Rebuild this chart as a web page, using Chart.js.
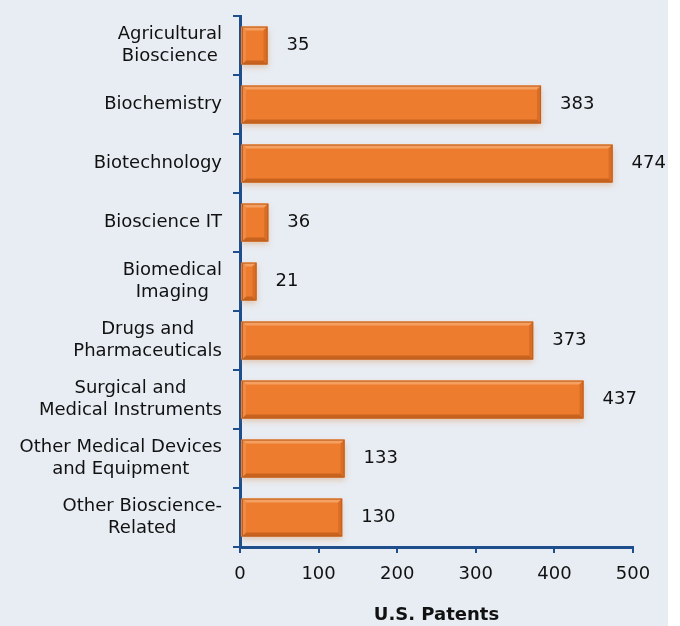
<!DOCTYPE html>
<html>
<head>
<meta charset="utf-8">
<script src="https://cdn.jsdelivr.net/npm/chart.js@4"></script>
<style>
  html, body { margin: 0; padding: 0; background: #fff; }
  #wrap { width: 680px; height: 626px; }
</style>
</head>
<body>
<div id="wrap"><canvas id="patentChart" width="680" height="626"></canvas></div>
<script>
// categories (multi-line labels) and patent counts
var categories = [
    ['Agricultural', 'Bioscience'],
    ['Biochemistry'],
    ['Biotechnology'],
    ['Bioscience IT'],
    ['Biomedical', 'Imaging'],
    ['Drugs and', 'Pharmaceuticals'],
    ['Surgical and', 'Medical Instruments'],
    ['Other Medical Devices', 'and Equipment'],
    ['Other Bioscience-', 'Related']
];
var patents = [35, 383, 474, 36, 21, 373, 437, 133, 130];
var xTicks = [0, 100, 200, 300, 400, 500];

var navy = '#1f4e8c';
var textColor = '#111';
var fontFamily = '"DejaVu Sans", Verdana, sans-serif';

// light panel behind the chart
var panelBg = {
    id: 'panelBg',
    beforeDraw: function (chart) {
        var ctx = chart.ctx;
        ctx.save();
        ctx.fillStyle = '#e8edf3';
        ctx.fillRect(0, 0, 668, chart.height);
        ctx.restore();
    }
};

// soft shadow under the bars
var barShadow = {
    id: 'barShadow',
    beforeDatasetsDraw: function (chart) {
        var ctx = chart.ctx;
        ctx.save();
        ctx.shadowColor = 'rgba(210, 120, 50, 0.35)';
        ctx.shadowBlur = 6;
        ctx.shadowOffsetY = 3;
    },
    afterDatasetsDraw: function (chart) {
        chart.ctx.restore();
    }
};

// bevel edges + value labels
var bevelAndLabels = {
    id: 'bevelAndLabels',
    afterDatasetsDraw: function (chart) {
        var ctx = chart.ctx;
        var meta = chart.getDatasetMeta(0);
        meta.data.forEach(function (bar, i) {
            var l = bar.base + 1, r = bar.x;
            var t = bar.y - bar.height / 2, b = bar.y + bar.height / 2;
            var e = 4;
            ctx.save();
            // top
            ctx.fillStyle = '#f4a062';
            ctx.beginPath();
            ctx.moveTo(l, t); ctx.lineTo(r, t); ctx.lineTo(r - e, t + e); ctx.lineTo(l + e, t + e);
            ctx.closePath(); ctx.fill();
            // bottom
            ctx.fillStyle = '#c8621f';
            ctx.beginPath();
            ctx.moveTo(l, b); ctx.lineTo(r, b); ctx.lineTo(r - e, b - e); ctx.lineTo(l + e, b - e);
            ctx.closePath(); ctx.fill();
            // right
            ctx.fillStyle = '#d96d25';
            ctx.beginPath();
            ctx.moveTo(r, t); ctx.lineTo(r, b); ctx.lineTo(r - e, b - e); ctx.lineTo(r - e, t + e);
            ctx.closePath(); ctx.fill();
            // left
            ctx.fillStyle = '#f08a44';
            ctx.beginPath();
            ctx.moveTo(l, t); ctx.lineTo(l, b); ctx.lineTo(l + e, b - e); ctx.lineTo(l + e, t + e);
            ctx.closePath(); ctx.fill();
            ctx.strokeStyle = '#c0601e';
            ctx.lineWidth = 1;
            ctx.strokeRect(l + 0.5, t + 0.5, r - l - 1, b - t - 1);

            ctx.fillStyle = textColor;
            ctx.font = '18px ' + fontFamily;
            ctx.textAlign = 'left';
            ctx.textBaseline = 'middle';
            ctx.fillText(patents[i], r + 19, bar.y);
            ctx.restore();
        });
    }
};

// category labels: block right-aligned, lines centred within block
var catLabels = {
    id: 'catLabels',
    afterDraw: function (chart) {
        var ctx = chart.ctx;
        var yScale = chart.scales.y;
        var lineH = 21.6;
        var rightEdge = yScale.right - 18;
        ctx.save();
        ctx.font = '18px ' + fontFamily;
        ctx.fillStyle = textColor;
        ctx.textAlign = 'center';
        ctx.textBaseline = 'middle';
        categories.forEach(function (lines, i) {
            var maxW = 0;
            lines.forEach(function (s) { maxW = Math.max(maxW, ctx.measureText(s).width); });
            var cx = rightEdge - maxW / 2;
            var cy = yScale.getPixelForTick(i);
            lines.forEach(function (s, j) {
                ctx.fillText(s, cx, cy + (j - (lines.length - 1) / 2) * lineH);
            });
        });
        ctx.restore();
    }
};

var ctx = document.getElementById('patentChart').getContext('2d');
var patentChart = new Chart(ctx, {
    type: 'bar',
    data: {
        labels: categories,
        datasets: [{
            data: patents,
            backgroundColor: '#ee7c2e',
            borderWidth: 0,
            categoryPercentage: 1,
            barPercentage: 0.64
        }]
    },
    options: {
        indexAxis: 'y',
        responsive: false,
        animation: false,
        layout: { padding: { top: 16, right: 47, left: 0, bottom: 0 } },
        plugins: {
            legend: { display: false },
            tooltip: { enabled: false }
        },
        scales: {
            x: {
                min: 0,
                max: 500,
                afterBuildTicks: function (scale) {
                    scale.ticks = xTicks.map(function (v) { return { value: v }; });
                },
                afterFit: function (scale) { scale.height = 79; },
                border: { display: true, color: navy, width: 3 },
                grid: { drawOnChartArea: false, color: navy, lineWidth: 2, tickLength: 6 },
                ticks: {
                    color: textColor,
                    padding: 11,
                    font: { family: fontFamily, size: 18 }
                },
                title: {
                    display: true,
                    text: 'U.S. Patents',
                    color: textColor,
                    padding: { top: 0, bottom: 0 },
                    font: { family: fontFamily, size: 18, weight: 'bold' }
                }
            },
            y: {
                afterFit: function (scale) { scale.width = 240; },
                border: { display: true, color: navy, width: 3 },
                grid: { drawOnChartArea: false, color: navy, lineWidth: 2, tickLength: 7 },
                ticks: { display: false }
            }
        }
    },
    plugins: [panelBg, barShadow, bevelAndLabels, catLabels]
});
</script>
</body>
</html>
